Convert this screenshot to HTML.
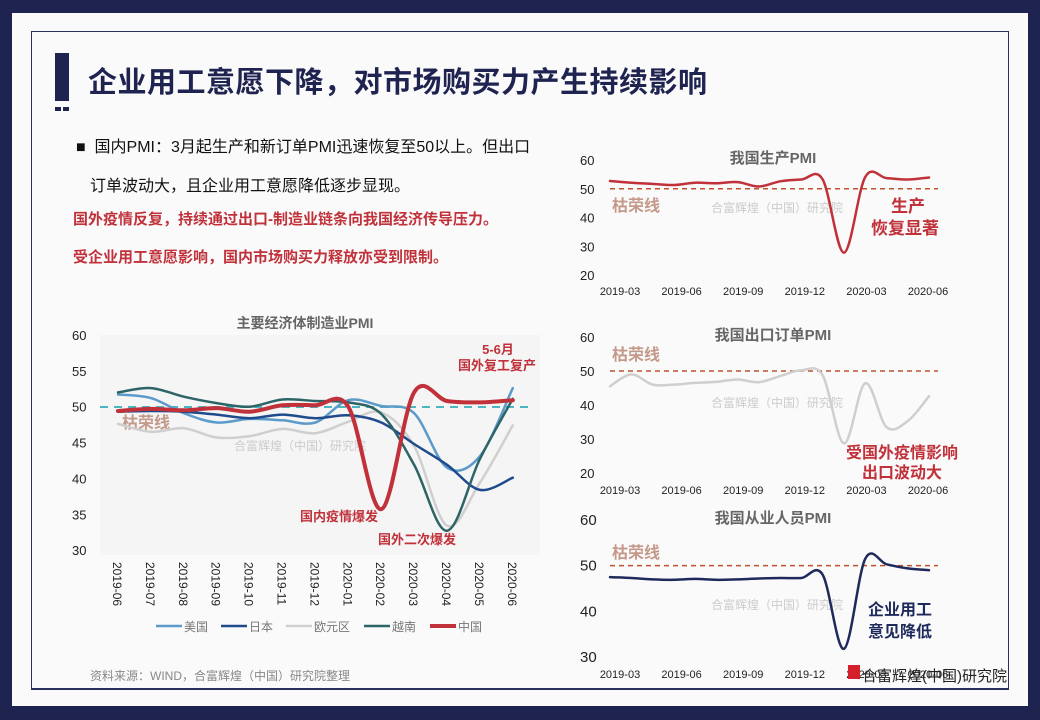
<!DOCTYPE html>
<html><head><meta charset="utf-8"><style>
body{margin:0;width:1040px;height:720px;background:#1f2350;overflow:hidden;font-family:"Liberation Sans","Noto Sans CJK SC",sans-serif;}
#pg{position:absolute;left:12px;top:13px;width:1016px;height:693px;background:#fafafa;}
#bd{position:absolute;left:31px;top:31px;width:976px;height:656px;border:1.5px solid #2b3060;border-bottom-width:2px;}
.t{position:absolute;white-space:nowrap;}
svg{position:absolute;left:0;top:0;}
</style></head><body>
<div id="pg"></div><div id="bd"></div>
<div style="position:absolute;left:55px;top:53px;width:14px;height:48px;background:#1f2350"></div>
<div style="position:absolute;left:55px;top:107px;width:6px;height:4px;background:#1f2350"></div>
<div style="position:absolute;left:63px;top:107px;width:6px;height:4px;background:#1f2350"></div>
<div class="t" style="left:88px;top:59px;font-size:29px;font-weight:bold;color:#1f2350;letter-spacing:0.5px">企业用工意愿下降，对市场购买力产生持续影响</div>
<div class="t" style="left:76px;top:133px;font-size:16px;color:#111">■&nbsp; 国内PMI：3月起生产和新订单PMI迅速恢复至50以上。但出口</div>
<div class="t" style="left:90px;top:172px;font-size:16px;color:#111">订单波动大，且企业用工意愿降低逐步显现。</div>
<div class="t" style="left:73px;top:208px;font-size:15px;font-weight:bold;color:#c0313a">国外疫情反复，持续通过出口-制造业链条向我国经济传导压力。</div>
<div class="t" style="left:73px;top:246px;font-size:15px;font-weight:bold;color:#c0313a">受企业用工意愿影响，国内市场购买力释放亦受到限制。</div>
<div class="t" style="left:90px;top:667px;font-size:12px;color:#888">资料来源：WIND，合富辉煌（中国）研究院整理</div>
<svg id="s" width="1040" height="720" font-family="Liberation Sans, Noto Sans CJK SC, sans-serif"></svg>
<script>
var s=document.getElementById('s'),h='';
function T(x,y,txt,sz,col,w,anc,extra){h+='<text x="'+x+'" y="'+y+'" font-size="'+sz+'" fill="'+col+'"'+(w?' font-weight="bold"':'')+(anc?' text-anchor="'+anc+'"':'')+(extra||'')+'>'+txt+'</text>';}
function path(pts,col,w){var d='M'+pts[0][0]+','+pts[0][1];for(var i=0;i<pts.length-1;i++){var p0=pts[i-1]||pts[i],p1=pts[i],p2=pts[i+1],p3=pts[i+2]||p2;var c1=[p1[0]+(p2[0]-p0[0])/6,p1[1]+(p2[1]-p0[1])/6],c2=[p2[0]-(p3[0]-p1[0])/6,p2[1]-(p3[1]-p1[1])/6];d+=' C'+c1[0].toFixed(1)+','+c1[1].toFixed(1)+' '+c2[0].toFixed(1)+','+c2[1].toFixed(1)+' '+p2[0]+','+p2[1];}h+='<path d="'+d+'" fill="none" stroke="'+col+'" stroke-width="'+w+'" stroke-linecap="round"/>';}
function ser(data,x0,dx,yf,col,w){path(data.map(function(v,i){return[x0+i*dx,+yf(v).toFixed(1)]}),col,w);}
h+='<rect x="100" y="335" width="440" height="220" fill="#f5f5f5"/>';
var ym=function(v){return 335+(60-v)*7.17};
[60,55,50,45,40,35,30].forEach(function(v){T(72,ym(v)+5,v,13,'#222')});
T(305,328,'主要经济体制造业PMI',14,'#666',1,'middle');
h+='<line x1="100" y1="407" x2="530" y2="407" stroke="#4bb5c1" stroke-width="2" stroke-dasharray="8,6"/>';
T(122,428,'枯荣线',16,'#c4998a',1);
T(300,450,'合富辉煌（中国）研究院',12,'#ccc',0,'middle');
var xm=118,dm=32.9;
ser([47.6,46.5,47.0,45.7,45.9,46.9,46.3,47.9,49.2,44.5,33.4,39.4,47.4],xm,dm,ym,'#cfcfcf',2.5);
ser([51.7,51.2,49.1,47.8,48.3,48.1,47.8,50.9,50.1,49.1,41.5,43.1,52.6],xm,dm,ym,'#5b9ac9',2.5);
ser([49.3,49.4,49.3,48.9,48.4,48.9,48.4,48.8,47.8,44.8,41.9,38.4,40.1],xm,dm,ym,'#1f4a8c',2.5);
ser([52.0,52.6,51.4,50.5,50.0,51.0,50.8,50.6,49.0,41.9,32.7,42.7,51.1],xm,dm,ym,'#2d6466',2.5);
ser([49.4,49.7,49.5,49.8,49.3,50.2,50.2,50.0,35.7,52.0,50.8,50.6,50.9],xm,dm,ym,'#c0313a',4);
['2019-06','2019-07','2019-08','2019-09','2019-10','2019-11','2019-12','2020-01','2020-02','2020-03','2020-04','2020-05','2020-06'].forEach(function(l,i){var x=xm+i*dm;T(x-5,562,l,12,'#222',0,'',' transform="rotate(90 '+(x-5)+' 562)"')});
T(498,354,'5-6月',13,'#c0313a',1,'middle');T(497,370,'国外复工复产',13,'#c0313a',1,'middle');
T(339,521,'国内疫情爆发',13,'#c0313a',1,'middle');T(417,544,'国外二次爆发',13,'#c0313a',1,'middle');
var lg=[['#5b9ac9','美国',156],['#1f4a8c','日本',221],['#cfcfcf','欧元区',286],['#2d6466','越南',364],['#c0313a','中国',430]];
lg.forEach(function(g){h+='<line x1="'+g[2]+'" y1="626" x2="'+(g[2]+26)+'" y2="626" stroke="'+g[0]+'" stroke-width="'+(g[1]=='中国'?4:2.5)+'"/>';T(g[2]+28,631,g[1],12,'#777')});
var xr=610,dr=21.27,months=['2019-03','2019-06','2019-09','2019-12','2020-03','2020-06'];
function rchart(top,bot,ticks,title,lab50y){var ys=function(v){return top+(ticks[0]-v)*(bot-top)/(ticks[0]-ticks[ticks.length-1])};
ticks.forEach(function(v){T(580,ys(v)+5,v,ticks.length==4?15:13,'#222')});
T(773,top+3,title,15,'#666',1,'middle');
h+='<line x1="610" y1="'+ys(50)+'" x2="938" y2="'+ys(50)+'" stroke="#c0522e" stroke-width="1.5" stroke-dasharray="5,4"/>';
T(612,lab50y,'枯荣线',16,'#c4998a',1);
return ys;}
var y1=rchart(160,275,[60,50,40,30,20],'我国生产PMI',211);
T(777,212,'合富辉煌（中国）研究院',12,'#ccc',0,'middle');
ser([52.7,52.1,51.7,51.3,52.1,51.9,52.3,50.8,52.6,53.2,53.2,27.8,54.1,53.7,53.2,53.9],xr,dr,y1,'#c0313a',2.5);
T(908,212,'生产',17,'#c0313a',1,'middle');T(905,234,'恢复显著',17,'#c0313a',1,'middle');
var y2=rchart(337,473,[60,50,40,30,20],'我国出口订单PMI',360);
T(777,407,'合富辉煌（中国）研究院',12,'#ccc',0,'middle');
ser([45.5,49.0,46.0,46.0,46.5,46.8,47.5,46.7,48.5,50.2,48.7,28.7,46.4,33.5,35.3,42.6],xr,dr,y2,'#cfcfcf',2.5);
T(902,458,'受国外疫情影响',16,'#c0313a',1,'middle');T(902,478,'出口波动大',16,'#c0313a',1,'middle');
var y3=rchart(520,657,[60,50,40,30],'我国从业人员PMI',558);
T(777,609,'合富辉煌（中国）研究院',12,'#ccc',0,'middle');
ser([47.5,47.3,47.0,46.9,47.1,46.9,47.0,47.2,47.3,47.3,48.0,31.8,51.5,50.3,49.4,49.0],xr,dr,y3,'#1f2a5c',2.5);
T(900,615,'企业用工',16,'#1f2a5c',1,'middle');T(900,637,'意见降低',16,'#1f2a5c',1,'middle');
[295,494,678].forEach(function(y){months.forEach(function(m,i){T(620+i*61.6,y,m,11,'#222',0,'middle')})});
h+='<rect x="848" y="665" width="12" height="14" fill="#d4202c"/>';
T(862,681,'合富辉煌(中国)研究院',15,'#222');
s.innerHTML=h;
</script>
</body></html>
